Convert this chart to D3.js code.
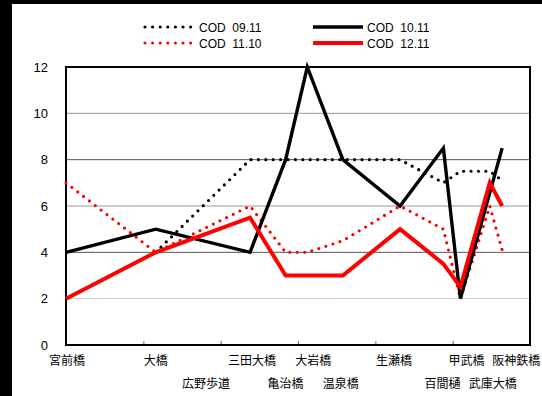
<!DOCTYPE html>
<html>
<head>
<meta charset="utf-8">
<script src="https://cdn.jsdelivr.net/npm/d3@7"></script>
<style>
  html, body { margin: 0; padding: 0; background: #000; }
  svg { display: block; }
  text { font-family: "Liberation Sans", Arial, "Noto Sans CJK JP", sans-serif; }
  .jp { font-family: "Noto Sans CJK JP", sans-serif; }
</style>
</head>
<body>
<script>
// Monitoring stations along the river, upstream to downstream (distance in km)
const stations = ["宮前橋", "大橋", "広野歩道", "三田大橋", "亀治橋", "大岩橋", "温泉橋", "生瀬橋", "百間樋", "甲武橋", "武庫大橋", "阪神鉄橋"];
const distanceKm = [0, 5.8, 9.05, 11.9, 14.2, 15.6, 17.9, 21.6, 24.4, 25.5, 27.4, 28.2];
// Label row under the axis (0 = first line, 1 = second line)
const labelRow = [0, 0, 1, 0, 1, 0, 1, 0, 1, 0, 1, 0];

// COD (mg/L) per survey; null = not measured
const cod0911 = [null, 4, null, 8, 8, 8, 8, 8, 7, 7.5, 7.5, 7.1];
const cod1011 = [4, 5, null, 4, 8, 12, 8, 6, 8.5, 2, null, 8.5];
const cod1110 = [7, 4, null, 6, 4, 4, 4.5, 6, 5, 2, 6, 4.1];
const cod1211 = [2, 4, null, 5.5, 3, 3, 3, 5, 3.5, 2.5, 7, 6];

const seriesNames = ["COD  09.11", "COD  10.11", "COD  11.10", "COD  12.11"];
const yTicks = [0, 2, 4, 6, 8, 10, 12];
const xTicks = [0, 5, 10, 15, 20, 25, 30];

const W = 542, H = 396;
const svg = d3.select("body").append("svg").attr("width", W).attr("height", H);

// white page with the dark frame on the top and left edges
svg.append("rect").attr("x", 0).attr("y", 0).attr("width", W).attr("height", H).attr("fill", "#000");
svg.append("rect").attr("x", 12).attr("y", 4).attr("width", W - 12).attr("height", H - 4).attr("fill", "#fff");

const plot = { left: 66, right: 530, top: 67, bottom: 345 };
const x = d3.scaleLinear().domain([0, 30]).range([plot.left, plot.right]);
const y = d3.scaleLinear().domain([0, 12]).range([plot.bottom, plot.top]);

// horizontal gridlines
svg.append("g").selectAll("line").data(yTicks.filter(t => t > 0 && t < 12)).join("line")
  .attr("x1", plot.left).attr("x2", plot.right)
  .attr("y1", d => y(d)).attr("y2", d => y(d))
  .attr("stroke", d => d === 2 ? "#c8c8c8" : (d % 4 === 0 ? "#555" : "#999"))
  .attr("stroke-width", 1);

// y axis labels
const yAxis = d3.axisLeft(y).tickValues(yTicks).tickSize(0).tickPadding(0);
svg.append("g").attr("transform", `translate(${plot.left - 18},0)`).call(yAxis)
  .call(g => g.select(".domain").remove())
  .call(g => g.selectAll("text").attr("font-size", 13).attr("fill", "#000")
    .attr("font-family", "'Liberation Sans', Arial, sans-serif"));

// x axis: inward tick marks only
const xAxis = d3.axisBottom(x).tickValues(xTicks).tickSize(-4).tickFormat("");
svg.append("g").attr("transform", `translate(0,${plot.bottom})`).call(xAxis)
  .call(g => g.select(".domain").remove())
  .call(g => g.selectAll(".tick line").attr("stroke", "#666"));

// plot frame
svg.append("rect")
  .attr("x", plot.left).attr("y", plot.top)
  .attr("width", plot.right - plot.left).attr("height", plot.bottom - plot.top)
  .attr("fill", "none").attr("stroke", "#000").attr("stroke-width", 2);

// series styles
const styles = [
  { color: "#000", width: 3.2, dash: "0 7.4" },
  { color: "#000", width: 3.4, dash: null },
  { color: "#ff0000", width: 3.2, dash: "0 7.4" },
  { color: "#ff0000", width: 4, dash: null }
];
const seriesValues = [cod0911, cod1011, cod1110, cod1211];

const line = d3.line().x(d => x(d.km)).y(d => y(d.v));
const drawOrder = [0, 2, 1, 3];
drawOrder.forEach(i => {
  const pts = seriesValues[i]
    .map((v, j) => ({ km: distanceKm[j], v }))
    .filter(d => d.v !== null);
  const s = styles[i];
  const p = svg.append("path").datum(pts)
    .attr("d", line)
    .attr("fill", "none")
    .attr("stroke", s.color)
    .attr("stroke-width", s.width)
    .attr("stroke-linejoin", "miter");
  if (s.dash) p.attr("stroke-dasharray", s.dash).attr("stroke-linecap", "round");
});

// station labels, two staggered rows
const labelNudge = { "宮前橋": 1, "三田大橋": 2, "大岩橋": 6, "温泉橋": -2, "生瀬橋": -6, "百間樋": -1, "甲武橋": 6, "武庫大橋": 3, "阪神鉄橋": 14 };
svg.append("g").selectAll("text").data(stations).join("text")
  .attr("class", "jp")
  .attr("x", (d, i) => x(distanceKm[i]) + (labelNudge[d] || 0))
  .attr("y", (d, i) => labelRow[i] === 0 ? 365 : 388)
  .attr("text-anchor", "middle")
  .attr("font-size", 12)
  .attr("fill", "#000")
  .text(d => d);

// legend
const legend = [
  { i: 0, x0: 145, yy: 27 },
  { i: 1, x0: 313, yy: 27 },
  { i: 2, x0: 145, yy: 43 },
  { i: 3, x0: 313, yy: 43 }
];
legend.forEach(l => {
  const s = styles[l.i];
  const ln = svg.append("line")
    .attr("x1", l.x0).attr("x2", l.x0 + (s.dash ? 48 : 50))
    .attr("y1", l.yy).attr("y2", l.yy)
    .attr("stroke", s.color).attr("stroke-width", s.width);
  if (s.dash) ln.attr("stroke-dasharray", "0 7.6").attr("stroke-linecap", "round");
  svg.append("text")
    .attr("x", l.x0 + (s.dash ? 54 : 54))
    .attr("y", l.yy + 4.5)
    .attr("font-size", 12)
    .attr("fill", "#000")
    .style("white-space", "pre")
    .text(seriesNames[l.i]);
});
</script>
</body>
</html>
